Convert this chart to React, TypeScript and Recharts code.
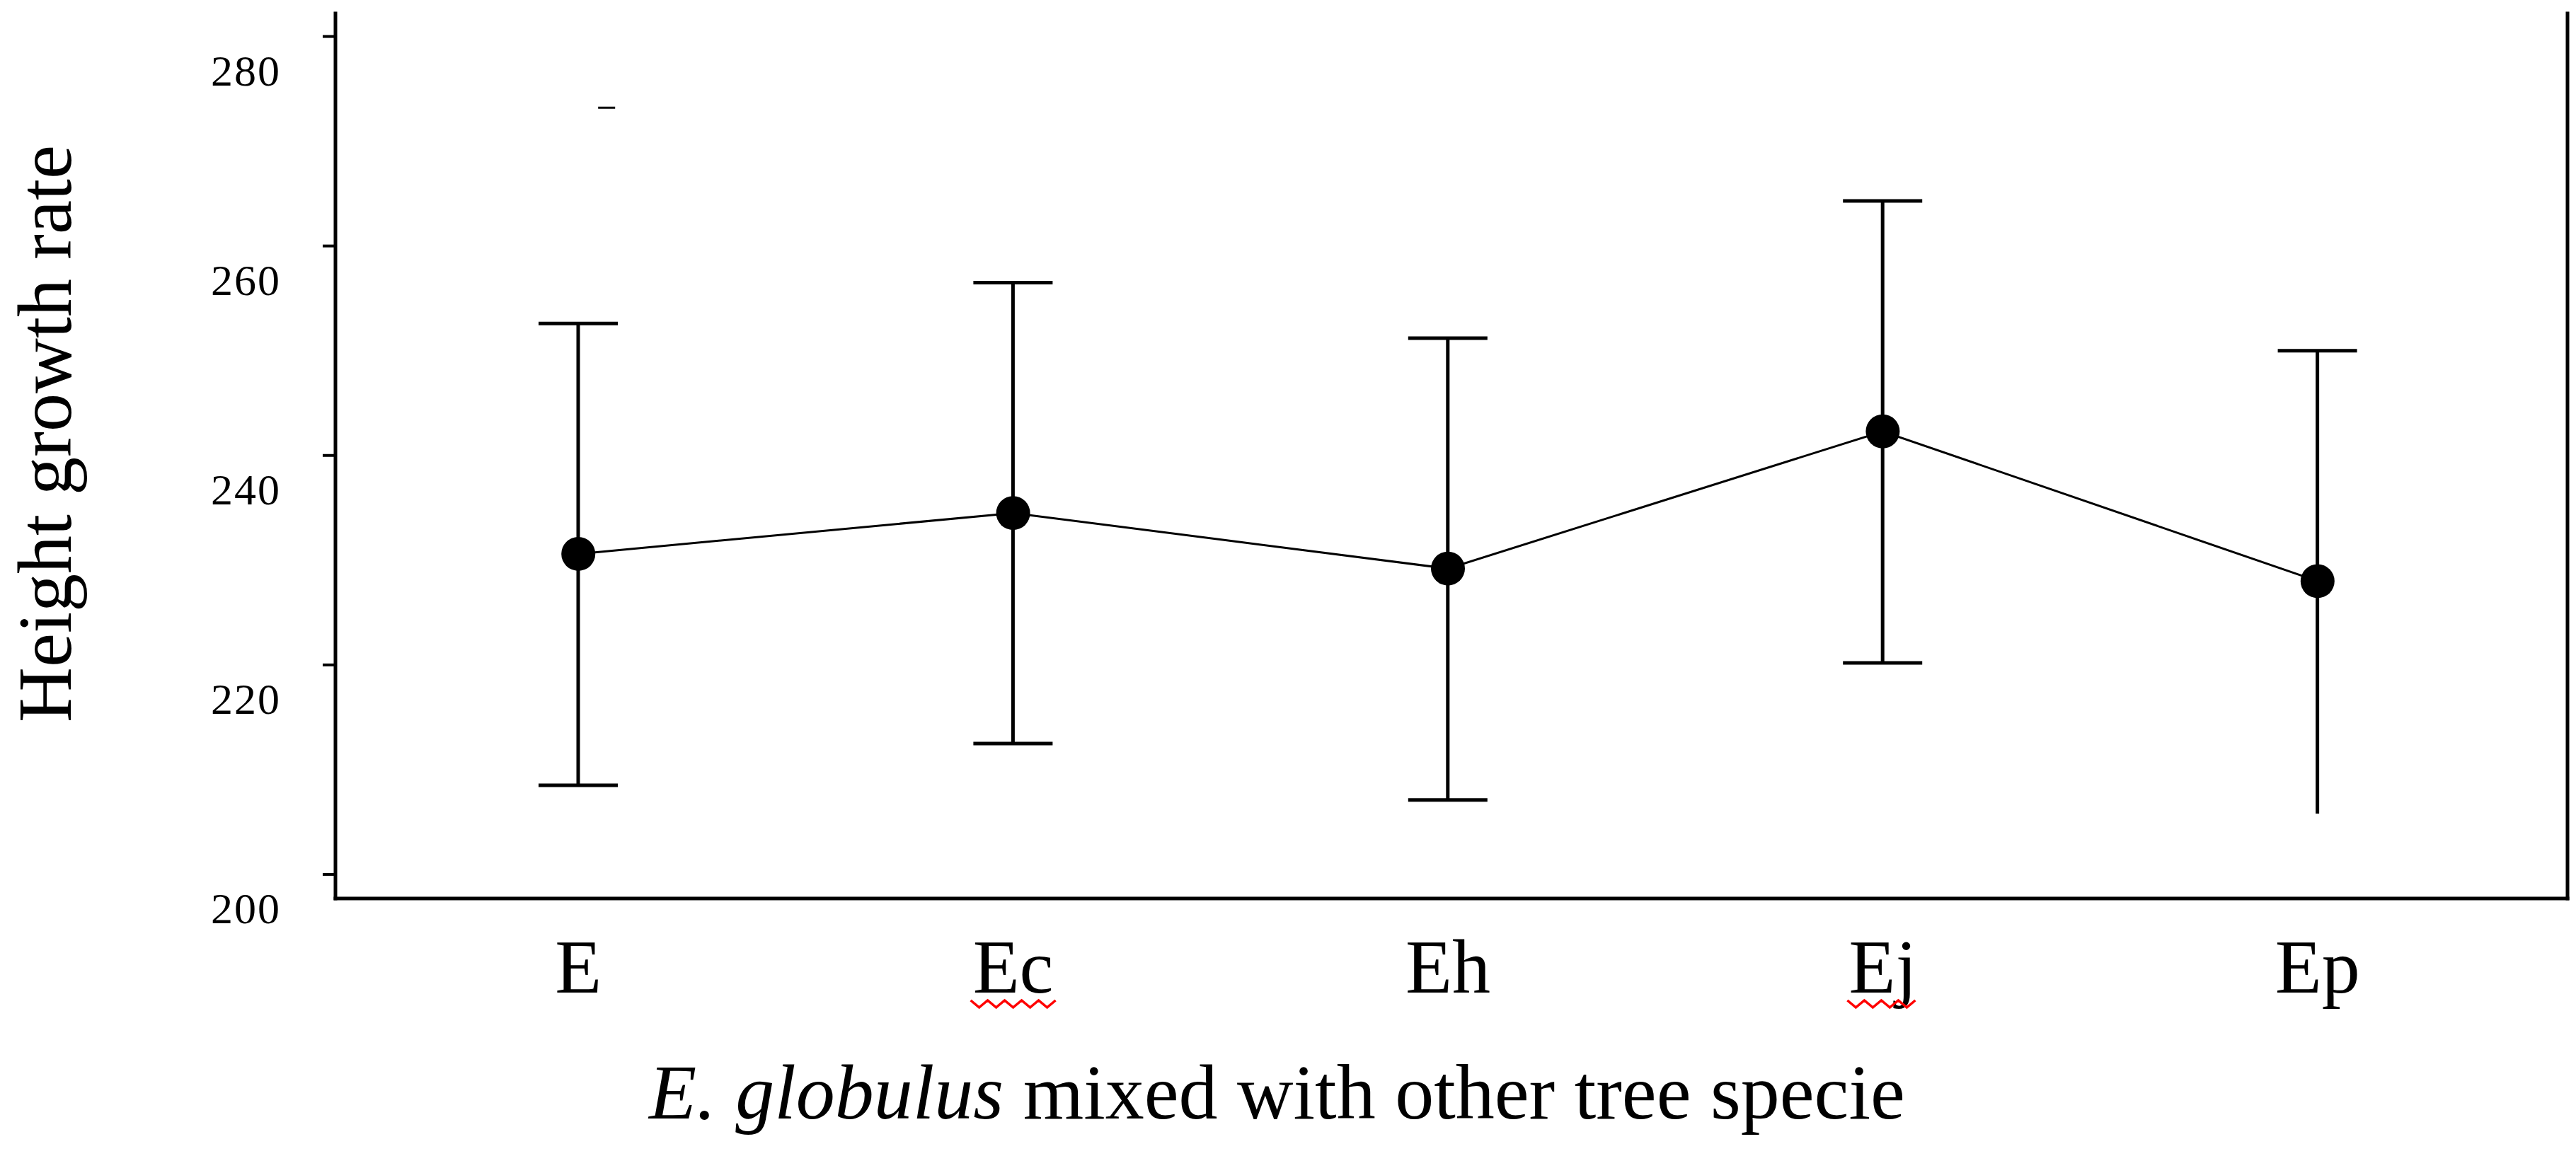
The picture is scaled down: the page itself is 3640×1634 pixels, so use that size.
import { ComposedChart, Line, Bar, XAxis, YAxis, ReferenceDot, Label } from 'recharts';

const species = ['E', 'Ec', 'Eh', 'Ej', 'Ep'];
const meanHeight = [230.6, 234.5, 229.2, 242.3, 228.0];
const upperLimit = [252.6, 256.5, 251.2, 264.3, 250.0];
const lowerLimit = [208.5, 212.5, 207.1, 220.2, 205.8];
const hasLowerCap = [true, true, true, true, false];
const yTicks = [200, 220, 240, 260, 280];
// small stray dash sitting just right of the E error bar
const strayMark = { name: 'E', value: 273.2 };
// word's red spell-check squiggles under two tick labels
const squiggled = [
  { name: 'Ec', width: 120 },
  { name: 'Ej', width: 100 },
];

const data = species.map((name, i) => ({
  name,
  mean: meanHeight[i],
  range: [lowerLimit[i], upperLimit[i]],
  lowerCap: hasLowerCap[i],
}));

const FONT = '"Liberation Serif", "Times New Roman", serif';

function wavePath(cx: number, y: number, w: number) {
  const x0 = cx - w / 2;
  const step = 12;
  let d = `M ${x0} ${y}`;
  let k = 1;
  for (let xx = x0 + step; xx <= x0 + w + 0.5; xx += step, k++) {
    d += ` L ${xx} ${k % 2 ? y + 10 : y}`;
  }
  return d;
}

const ErrorShape = (props: any) => {
  const { x, y, width, height, payload } = props;
  if (x == null || y == null) return null;
  const cx = x + width / 2;
  const top = Math.min(y, y + height);
  const bottom = Math.max(y, y + height);
  return (
    <g>
      <line x1={cx} x2={cx} y1={top} y2={bottom} stroke="#000" strokeWidth={5} />
      <line x1={cx - 56} x2={cx + 56} y1={top} y2={top} stroke="#000" strokeWidth={5} />
      {payload.lowerCap && (
        <line x1={cx - 56} x2={cx + 56} y1={bottom} y2={bottom} stroke="#000" strokeWidth={5} />
      )}
    </g>
  );
};

const YTick = (props: any) => {
  const { x, y, payload } = props;
  return (
    <text
      x={x}
      y={y + 48}
      textAnchor="end"
      dominantBaseline="central"
      fontFamily={FONT}
      fontSize={62}
      letterSpacing={2}
      fill="#000"
    >
      {payload.value}
    </text>
  );
};

const XTick = (props: any) => {
  const { x, y, payload } = props;
  const sq = squiggled.find((s) => s.name === payload.value);
  return (
    <g>
      <text x={x} y={y + 133} textAnchor="middle" fontFamily={FONT} fontSize={108} fill="#000">
        {payload.value}
      </text>
      {sq && (
        <path d={wavePath(x, y + 144, sq.width)} fill="none" stroke="#ff0000" strokeWidth={3.5} />
      )}
    </g>
  );
};

const StrayDash = (props: any) => {
  const { cx, cy } = props;
  return <line x1={cx + 28} x2={cx + 52} y1={cy} y2={cy} stroke="#000" strokeWidth={3} />;
};

const frameLine = { stroke: '#000', strokeWidth: 5, strokeLinecap: 'square' as const };

export default function App() {
  return (
    <div style={{ position: 'absolute', left: 0, top: 0, width: 3640, height: 1634, background: '#fff' }}>
      <ComposedChart
        width={3640}
        height={1634}
        data={data}
        margin={{ top: 19, right: 0, left: 0, bottom: 0 }}
      >
        <XAxis
          xAxisId="main"
          dataKey="name"
          scale="band"
          padding={{ left: 36, right: 46 }}
          height={364}
          tickLine={false}
          tickSize={0}
          tickMargin={0}
          axisLine={frameLine}
          tick={<XTick />}
          interval={0}
        >
          <Label
            content={(p: any) => {
              const vb = p.viewBox || { x: 474, y: 1270 };
              return (
                <text x={917} y={vb.y + 311} fontFamily={FONT} fontSize={110} fill="#000">
                  <tspan fontStyle="italic">E. globulus</tspan>
                  <tspan> mixed with other tree specie</tspan>
                </text>
              );
            }}
          />
        </XAxis>
        <XAxis
          xAxisId="top"
          dataKey="name"
          orientation="top"
          height={0}
          tick={false}
          tickLine={false}
          axisLine={frameLine}
        />
        <YAxis
          yAxisId="left"
          width={474}
          domain={[197.7, 282.2]}
          allowDataOverflow
          ticks={yTicks}
          interval={0}
          tickSize={18}
          tickMargin={59}
          tickLine={{ stroke: '#000', strokeWidth: 4 }}
          axisLine={frameLine}
          tick={<YTick />}
        >
          <Label
            content={(p: any) => {
              const vb = p.viewBox || { x: 0, y: 19 };
              const tx = vb.x + 100;
              const ty = vb.y + 594;
              return (
                <text
                  x={tx}
                  y={ty}
                  transform={`rotate(-90 ${tx} ${ty})`}
                  textAnchor="middle"
                  fontFamily={FONT}
                  fontSize={108}
                  fill="#000"
                >
                  Height growth rate
                </text>
              );
            }}
          />
        </YAxis>
        <YAxis
          yAxisId="right"
          orientation="right"
          width={12}
          domain={[197.7, 282.2]}
          allowDataOverflow
          ticks={yTicks}
          interval={0}
          tickSize={12}
          tick={false}
          tickLine={{ stroke: '#000', strokeWidth: 4 }}
          axisLine={frameLine}
        />
        <Bar
          xAxisId="main"
          yAxisId="left"
          dataKey="range"
          barSize={10}
          shape={<ErrorShape />}
          isAnimationActive={false}
        />
        <Line
          xAxisId="main"
          yAxisId="left"
          dataKey="mean"
          type="linear"
          stroke="#000"
          strokeWidth={3}
          dot={{ r: 24, fill: '#000', stroke: '#000', strokeWidth: 0 }}
          activeDot={false}
          isAnimationActive={false}
        />
        <ReferenceDot
          xAxisId="main"
          yAxisId="left"
          x={strayMark.name}
          y={strayMark.value}
          shape={<StrayDash />}
        />
      </ComposedChart>
    </div>
  );
}
